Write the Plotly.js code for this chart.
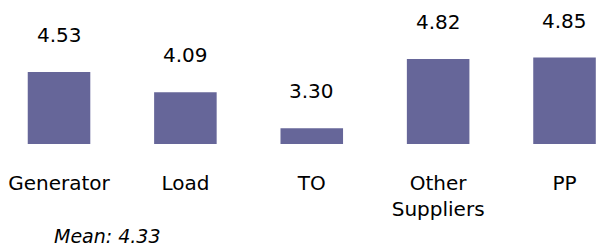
<!DOCTYPE html>
<html>
<head>
<meta charset="utf-8">
<script src="https://cdn.plot.ly/plotly-3.0.1.min.js"></script>
<style>html,body{margin:0;padding:0;background:#fff;}#chart{width:597px;height:248px;}</style>
</head>
<body>
<div id="chart"></div>
<script>
const categories = ["Generator", "Load", "TO", "Other Suppliers", "PP"];
const tickLabels = ["Generator", "Load", "TO", "Other<br>Suppliers", "PP"];
const values = [4.53, 4.09, 3.30, 4.82, 4.85];
const valueLabels = ["4.53", "4.09", "3.30", "4.82", "4.85"];
const meanLabel = "Mean: 4.33";

const FONT = "DejaVu Sans, Verdana, sans-serif";

const trace = {
  type: "bar",
  x: categories,
  y: values,
  marker: {color: "#666699"},
  hoverinfo: "none"
};

const annotations = categories.map((c, i) => ({
  x: c, y: values[i], xref: "x", yref: "y",
  text: valueLabels[i], showarrow: false,
  yanchor: "middle", yshift: 37,
  font: {family: FONT, size: 20, color: "#000"}
}));
annotations.push({
  xref: "paper", yref: "paper", x: 52/597, y: 0, yshift: -92,
  text: "<i>" + meanLabel + "</i>", showarrow: false,
  xanchor: "left", yanchor: "middle",
  font: {family: FONT, size: 19, color: "#000"}
});

const layout = {
  width: 597, height: 248,
  margin: {l: 0, r: 0, t: 0, b: 104, pad: 0},
  paper_bgcolor: "#fff", plot_bgcolor: "#fff",
  showlegend: false,
  bargap: 0.505,
  xaxis: {
    type: "category",
    range: [-0.467, 4.257],
    tickvals: categories, ticktext: tickLabels,
    showgrid: false, zeroline: false, showline: false,
    ticks: "", ticklabelstandoff: 25,
    tickfont: {family: FONT, size: 20, color: "#000"},
    fixedrange: true
  },
  yaxis: {
    range: [2.955, 6.11],
    showgrid: false, zeroline: false, showline: false,
    showticklabels: false, ticks: "",
    fixedrange: true
  },
  annotations: annotations
};

Plotly.newPlot("chart", [trace], layout, {displayModeBar: false, staticPlot: true});
</script>
</body>
</html>
